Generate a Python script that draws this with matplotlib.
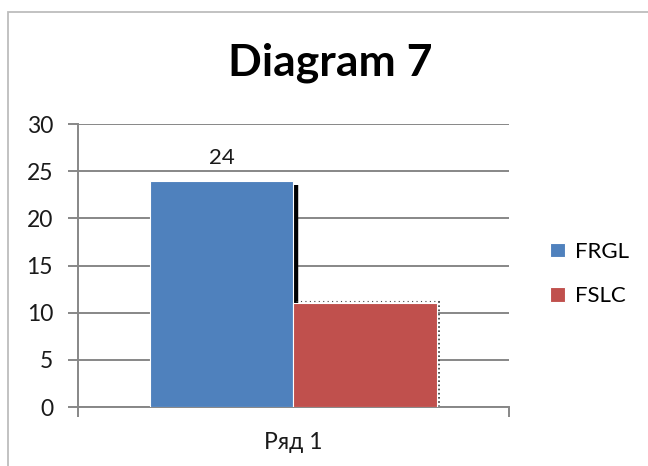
import matplotlib
matplotlib.use("Agg")
import matplotlib.pyplot as plt
from matplotlib.patches import Rectangle

title = "Diagram 7"
category = "Ряд 1"
series = ["FRGL", "FSLC"]
values = [24, 11]
colors = ["#4F81BD", "#C0504D"]
yticks = [0, 5, 10, 15, 20, 25, 30]

plt.rcParams['font.family'] = ['Lato', 'DejaVu Sans']

fig = plt.figure(figsize=(6.48, 4.66), dpi=100)
ax = fig.add_axes([0.1204, 0.1266, 0.665, 0.6073])

# outer chart border like an Excel chart area
fig.patches.append(Rectangle((8 / 648, -0.1), 1.1, 1.1 - 12 / 466,
                             transform=fig.transFigure, fill=False,
                             edgecolor="#BDBDBD", linewidth=1.3))

width = 0.332
xs = [-width / 2, width / 2]
for i in range(len(series)):
    ax.bar(xs[i], values[i], width=width, color=colors[i],
           edgecolor="white", linewidth=0.8, label=series[i], zorder=3)

# shadow artefact between the bars
right_blue = xs[0] + width / 2 + 0.007
ax.vlines(right_blue, values[1], values[0] - 0.5, color="black",
          linewidth=3.2, zorder=2)
ax.hlines(values[1] + 0.2, right_blue, xs[1] + width / 2 + 0.005, color="#444444",
          linewidth=0.8, linestyles=(0, (1, 3)), zorder=2)
ax.vlines(xs[1] + width / 2 + 0.006, 0, values[1] + 0.2, color="#333333",
          linewidth=1.2, linestyles=(0, (1, 1.5)), zorder=2)

ax.text(xs[0], values[0] + 1.3, str(values[0]), ha="center", va="bottom",
        fontsize=16, color="#1a1a1a")

ax.set_xlim(-0.5, 0.5)
ax.set_ylim(0, 30)
ax.set_yticks(yticks)
ax.set_yticklabels([str(t) for t in yticks], fontsize=16.5)
ax.set_xticks([-0.5, 0.5])
ax.set_xticklabels([])
ax.text(0.5, -0.125, category, transform=ax.transAxes, ha="center", va="center",
        fontsize=16.5, color="#1a1a1a")

ax.yaxis.grid(True, color="#878787", linewidth=1.4, zorder=0)
ax.set_axisbelow(True)
for s in ["top", "right"]:
    ax.spines[s].set_visible(False)
for s in ["left", "bottom"]:
    ax.spines[s].set_color("#878787")
    ax.spines[s].set_linewidth(1.4)
ax.tick_params(axis="both", direction="out", length=7, width=1.4,
               color="#878787", labelcolor="#1a1a1a")
ax.tick_params(axis="y", pad=11)

fig.text(0.51, 0.865, title, ha="center", va="center", fontsize=32,
         fontweight="bold", color="black")

ax.legend(loc="center left", bbox_to_anchor=(1.05, 0.47), frameon=False,
          fontsize=16, handlelength=0.65, handleheight=0.65,
          handletextpad=0.45, labelspacing=1.1)

fig.savefig("out.png", dpi=100)
